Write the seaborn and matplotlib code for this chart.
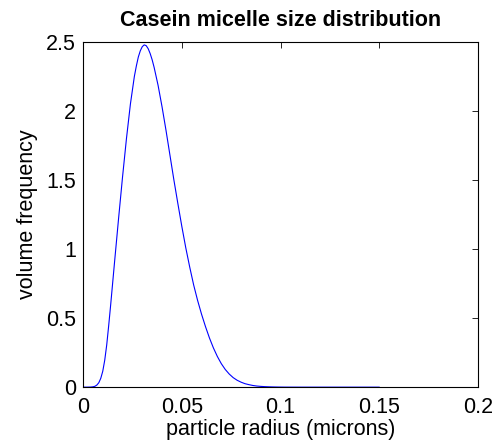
import numpy as np
import pandas as pd
import matplotlib
matplotlib.use("Agg")
import matplotlib.pyplot as plt
import seaborn as sns

radius = [0.000, 0.002, 0.004, 0.005, 0.006, 0.007, 0.008, 0.009, 0.010, 0.011,
          0.012, 0.013, 0.014, 0.016, 0.018,
          0.020, 0.022, 0.024, 0.026, 0.027, 0.028, 0.029, 0.030, 0.031, 0.032,
          0.033, 0.034, 0.035, 0.036, 0.038, 0.040, 0.042, 0.044, 0.046, 0.048,
          0.050, 0.052, 0.054, 0.056, 0.058, 0.060, 0.062, 0.064, 0.066, 0.068,
          0.070, 0.072, 0.074, 0.076, 0.078, 0.080, 0.082, 0.084, 0.086, 0.088,
          0.090, 0.092, 0.094, 0.096, 0.098, 0.100, 0.102, 0.104, 0.106, 0.110,
          0.120, 0.130, 0.140, 0.150]
volume_freq = [0.0, 0.0, 0.0008, 0.0025, 0.006, 0.015, 0.032, 0.064, 0.115, 0.195,
               0.305, 0.445, 0.595, 0.91, 1.22,
               1.52, 1.80, 2.05, 2.25, 2.325, 2.39, 2.435, 2.465, 2.478, 2.472,
               2.45, 2.415, 2.37, 2.315, 2.185, 2.03, 1.86, 1.68, 1.50, 1.33,
               1.165, 1.01, 0.87, 0.74, 0.628, 0.528, 0.438, 0.356, 0.284, 0.222,
               0.170, 0.128, 0.095, 0.069, 0.050, 0.036, 0.025, 0.018, 0.012, 0.008,
               0.0055, 0.0037, 0.0025, 0.0016, 0.001, 0.0006, 0.0003, 0.0002, 0.0001, 0.0,
               0.0, 0.0, 0.0, 0.0]

x_ticks = [0, 0.05, 0.1, 0.15, 0.2]
x_tick_labels = ["0", "0.05", "0.1", "0.15", "0.2"]
y_ticks = [0, 0.5, 1, 1.5, 2, 2.5]
y_tick_labels = ["0", "0.5", "1", "1.5", "2", "2.5"]

sns.set_theme(style="white")
plt.rcParams['font.family'] = ['Liberation Sans', 'DejaVu Sans']

df = pd.DataFrame({"radius": radius, "freq": volume_freq})

FS = 15.5
fig = plt.figure(figsize=(4.94, 4.45), dpi=100)
ax = fig.add_axes([0.168, 0.130, 0.800, 0.776])
sns.lineplot(data=df, x="radius", y="freq", ax=ax, color=(0, 0, 1), linewidth=0.8)

ax.set_xlim(0, 0.2)
ax.set_ylim(0, 2.5)
ax.set_xticks(x_ticks)
ax.set_xticklabels(x_tick_labels)
ax.set_yticks(y_ticks)
ax.set_yticklabels(y_tick_labels)
ax.tick_params(direction="in", length=4, width=0.6, color="black",
               top=True, right=True, labelsize=FS, labelcolor="black")
ax.tick_params(axis="x", pad=7)
ax.tick_params(axis="y", pad=5)
for s in ax.spines.values():
    s.set_visible(True)
    s.set_color("black")
    s.set_linewidth(0.8)
ax.set_facecolor("white")
ax.grid(False)
ax.set_xlabel("particle radius (microns)", fontsize=FS, color="black", labelpad=1)
ax.set_ylabel("volume frequency", fontsize=FS, color="black", labelpad=6)
ax.set_title("Casein micelle size distribution", fontsize=FS, fontweight="bold",
             color="black", pad=11.5)

fig.savefig("out.png", dpi=100, facecolor="white")
